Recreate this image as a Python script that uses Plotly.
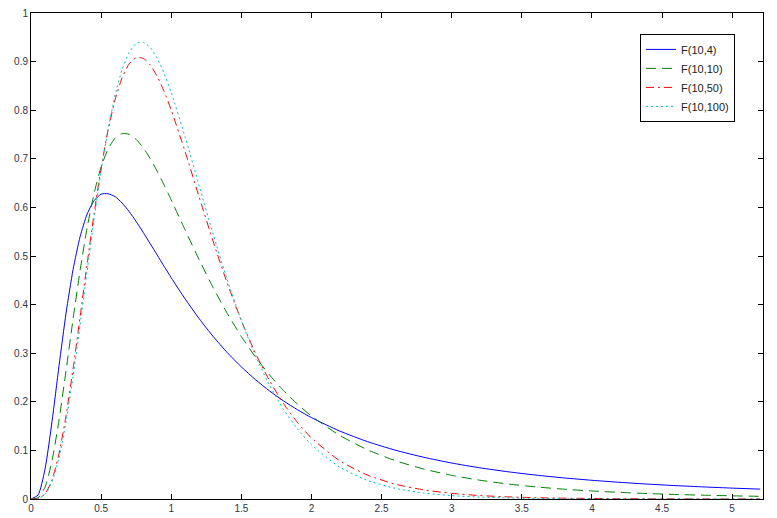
import plotly.graph_objects as go

x = [0, 0.05, 0.1, 0.15, 0.2, 0.25, 0.3, 0.35, 0.4, 0.45, 0.5, 0.55, 0.6, 0.65, 0.7,
     0.75, 0.8, 0.85, 0.9, 0.95, 1.0, 1.1, 1.2, 1.3, 1.4, 1.5, 1.6, 1.7, 1.8, 1.9,
     2.0, 2.2, 2.4, 2.6, 2.8, 3.0, 3.2, 3.4, 3.6, 3.8, 4.0, 4.2, 4.4, 4.6, 4.8, 5.0, 5.2]

f_10_4 = [0, 0.0080, 0.0614, 0.1596, 0.2744, 0.3825, 0.4721, 0.5396, 0.5860, 0.6140,
          0.6272, 0.6281, 0.6221, 0.6089, 0.5914, 0.5710, 0.5487, 0.5254, 0.5019, 0.4784,
          0.4553, 0.4113, 0.3708, 0.3341, 0.3012, 0.2719, 0.2457, 0.2226, 0.2020, 0.1837,
          0.1674, 0.1400, 0.1180, 0.1003, 0.0859, 0.0740, 0.0642, 0.0561, 0.0492, 0.0434,
          0.0385, 0.0343, 0.0306, 0.0275, 0.0248, 0.0224, 0.0203]

f_10_10 = [0, 0.0024, 0.0243, 0.0789, 0.1628, 0.2642, 0.3702, 0.4702, 0.5576, 0.6288,
           0.6828, 0.7202, 0.7426, 0.7519, 0.7503, 0.7400, 0.7228, 0.7004, 0.6742, 0.6455,
           0.6153, 0.5530, 0.4919, 0.4343, 0.3817, 0.3344, 0.2925, 0.2556, 0.2233, 0.1952,
           0.1707, 0.1311, 0.1012, 0.0787, 0.0617, 0.0487, 0.0387, 0.0309, 0.0249, 0.0202,
           0.0165, 0.0136, 0.0112, 0.0093, 0.0078, 0.0065, 0.0055]

f_10_50 = [0, 0.0009, 0.0105, 0.0396, 0.0937, 0.1717, 0.2680, 0.3746, 0.4834, 0.5872,
           0.6806, 0.7595, 0.8219, 0.8671, 0.8954, 0.9080, 0.9066, 0.8930, 0.8695, 0.8380,
           0.8004, 0.7138, 0.6206, 0.5290, 0.4436, 0.3671, 0.3006, 0.2440, 0.1967, 0.1575,
           0.1256, 0.0790, 0.0492, 0.0304, 0.0188, 0.0116, 0.0071, 0.0044, 0.0027, 0.0017,
           0.0011, 0.0007, 0.0004, 0.0003, 0.0002, 0.0001, 0.0001]

f_10_100 = [0, 0.0008, 0.0092, 0.0353, 0.0851, 0.1588, 0.2520, 0.3577, 0.4682, 0.5760,
            0.6753, 0.7613, 0.8314, 0.8840, 0.9189, 0.9371, 0.9399, 0.9291, 0.9068, 0.8752,
            0.8364, 0.7444, 0.6438, 0.5438, 0.4505, 0.3673, 0.2953, 0.2347, 0.1848, 0.1442,
            0.1117, 0.0659, 0.0382, 0.0218, 0.0123, 0.0069, 0.0039, 0.0022, 0.0012, 0.0007,
            0.0004, 0.0002, 0.0001, 0.0001, 0.0, 0.0, 0.0]

names = ["F(10,4)", "F(10,10)", "F(10,50)", "F(10,100)"]
series = [f_10_4, f_10_10, f_10_50, f_10_100]
colors = ["#0000ff", "#008000", "#ff0000", "#00bfbf"]
dashes = ["solid", "10px,6px", "8px,4px,2px,4px", "2px,3px"]

x_ticks = [0, 0.5, 1, 1.5, 2, 2.5, 3, 3.5, 4, 4.5, 5]
x_tick_labels = ["0", "0.5", "1", "1.5", "2", "2.5", "3", "3.5", "4", "4.5", "5"]
y_ticks = [0, 0.1, 0.2, 0.3, 0.4, 0.5, 0.6, 0.7, 0.8, 0.9, 1]
y_tick_labels = ["0", "0.1", "0.2", "0.3", "0.4", "0.5", "0.6", "0.7", "0.8", "0.9", "1"]

fig = go.Figure()
for name, ys, c, d in zip(names, series, colors, dashes):
    fig.add_trace(go.Scatter(x=x, y=ys, mode="lines", name=name,
                             line=dict(color=c, width=1, dash=d, shape="spline", smoothing=0.6)))

axis_common = dict(showline=True, linecolor="black", linewidth=1, mirror="allticks",
                   ticks="inside", ticklen=5, tickcolor="black", showgrid=False,
                   zeroline=False, automargin=False, ticklabeloverflow="allow",
                   tickfont=dict(family="Liberation Sans, Arial, sans-serif", size=10, color="#333344"))

fig.update_xaxes(range=[0, 5.22], tickvals=x_ticks, ticktext=x_tick_labels, **axis_common)
fig.update_yaxes(range=[0, 1], tickvals=y_ticks, ticktext=y_tick_labels, **axis_common)

fig.update_layout(
    width=777, height=518,
    margin=dict(l=31, r=14, t=13, b=19, autoexpand=False),
    paper_bgcolor="white", plot_bgcolor="white",
    legend=dict(x=0.832, y=0.957, xanchor="left", yanchor="top",
                bgcolor="white", bordercolor="black", borderwidth=1,
                font=dict(family="Liberation Sans, Arial, sans-serif", size=11, color="#222222"),
                tracegroupgap=0),
    showlegend=True,
)

# remove the page's default 8px body margin so the figure sits at the window's corner
fig.write_html("out.html", config={"displayModeBar": False},
               post_script="document.body.style.margin='0';")
